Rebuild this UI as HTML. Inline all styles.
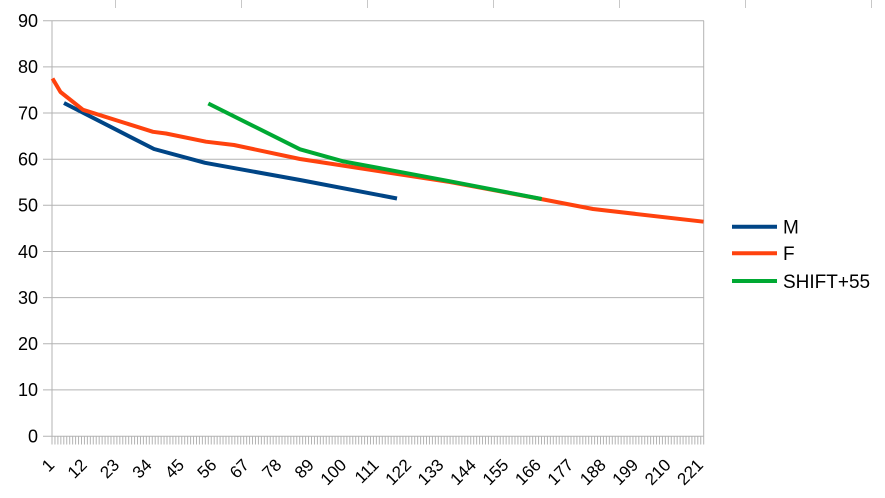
<!DOCTYPE html>
<html>
<head>
<meta charset="utf-8">
<style>
html,body{margin:0;padding:0;background:#fff;}
svg{display:block;}
text{font-family:"Liberation Sans",Arial,sans-serif;fill:#000;}
</style>
</head>
<body>
<svg width="885" height="498" viewBox="0 0 885 498" xmlns="http://www.w3.org/2000/svg">
<g stroke="#c8c8c8" stroke-width="1">
<line x1="115.5" y1="0" x2="115.5" y2="8"/>
<line x1="241.5" y1="0" x2="241.5" y2="8"/>
<line x1="367.5" y1="0" x2="367.5" y2="8"/>
<line x1="493.5" y1="0" x2="493.5" y2="8"/>
<line x1="619.5" y1="0" x2="619.5" y2="8"/>
<line x1="745.5" y1="0" x2="745.5" y2="8"/>
<line x1="871.5" y1="0" x2="871.5" y2="8"/>
</g>
<g stroke="#b3b3b3" stroke-width="1">
<line x1="43" y1="20.7" x2="704" y2="20.7"/>
<line x1="43" y1="66.9" x2="704" y2="66.9"/>
<line x1="43" y1="113.0" x2="704" y2="113.0"/>
<line x1="43" y1="159.2" x2="704" y2="159.2"/>
<line x1="43" y1="205.3" x2="704" y2="205.3"/>
<line x1="43" y1="251.5" x2="704" y2="251.5"/>
<line x1="43" y1="297.6" x2="704" y2="297.6"/>
<line x1="43" y1="343.8" x2="704" y2="343.8"/>
<line x1="43" y1="389.9" x2="704" y2="389.9"/>
<line x1="43" y1="436.3" x2="704" y2="436.3"/>
<line x1="52" y1="20.7" x2="52" y2="436.3"/>
<line x1="703.7" y1="20.7" x2="703.7" y2="436.3"/>
</g>
<g id="ticks" stroke="#b3b3b3" stroke-width="1"></g>
<g font-size="18" text-anchor="end">
<text x="38" y="27">90</text>
<text x="38" y="73.2">80</text>
<text x="38" y="119.3">70</text>
<text x="38" y="165.5">60</text>
<text x="38" y="211.6">50</text>
<text x="38" y="257.8">40</text>
<text x="38" y="303.9">30</text>
<text x="38" y="350.1">20</text>
<text x="38" y="396.2">10</text>
<text x="38" y="442.6">0</text>
</g>
<g id="xl" font-size="17" text-anchor="end"></g>
<g fill="none" stroke-width="4" stroke-linejoin="round">
<polyline stroke="#004586" points="64,103 154,149 205,162.8 300,180 397,198.5"/>
<polyline stroke="#ff420e" points="52.5,78.5 60.5,92 83,109.8 153,131.8 166,133.5 206,141.7 234,145 300,159 450,182 541,199 593,209 703.5,221.7"/>
<polyline stroke="#00a933" points="208.3,103.5 300,149.3 343,161.3 450,181.3 541.7,199"/>
</g>
<g stroke-width="4">
<line x1="732" y1="226.7" x2="777" y2="226.7" stroke="#004586"/>
<line x1="732" y1="253.3" x2="777" y2="253.3" stroke="#ff420e"/>
<line x1="732" y1="281" x2="777" y2="281" stroke="#00a933"/>
</g>
<g font-size="19">
<text x="783" y="233.5">M</text>
<text x="783" y="260">F</text>
<text x="783" y="288">SHIFT+55</text>
</g>
<script>
(function(){
var ns="http://www.w3.org/2000/svg";
var g=document.getElementById("ticks");
var step=(703.7-52)/221;
for(var k=0;k<=221;k++){
var x=52+k*step;
var l=document.createElementNS(ns,"line");
l.setAttribute("x1",x.toFixed(2));l.setAttribute("x2",x.toFixed(2));
l.setAttribute("y1","436.3");l.setAttribute("y2","444.5");
g.appendChild(l);
}
var xl=document.getElementById("xl");
for(var i=1;i<=221;i+=11){
var cx=52+(i-0.5)*step;
var ax=cx+2, ay=466;
var t=document.createElementNS(ns,"text");
t.setAttribute("x",ax.toFixed(2));t.setAttribute("y",ay);
t.setAttribute("transform","rotate(-45 "+ax.toFixed(2)+" "+ay+")");
t.textContent=String(i);
xl.appendChild(t);
}
})();
</script>
</svg>
</body>
</html>
